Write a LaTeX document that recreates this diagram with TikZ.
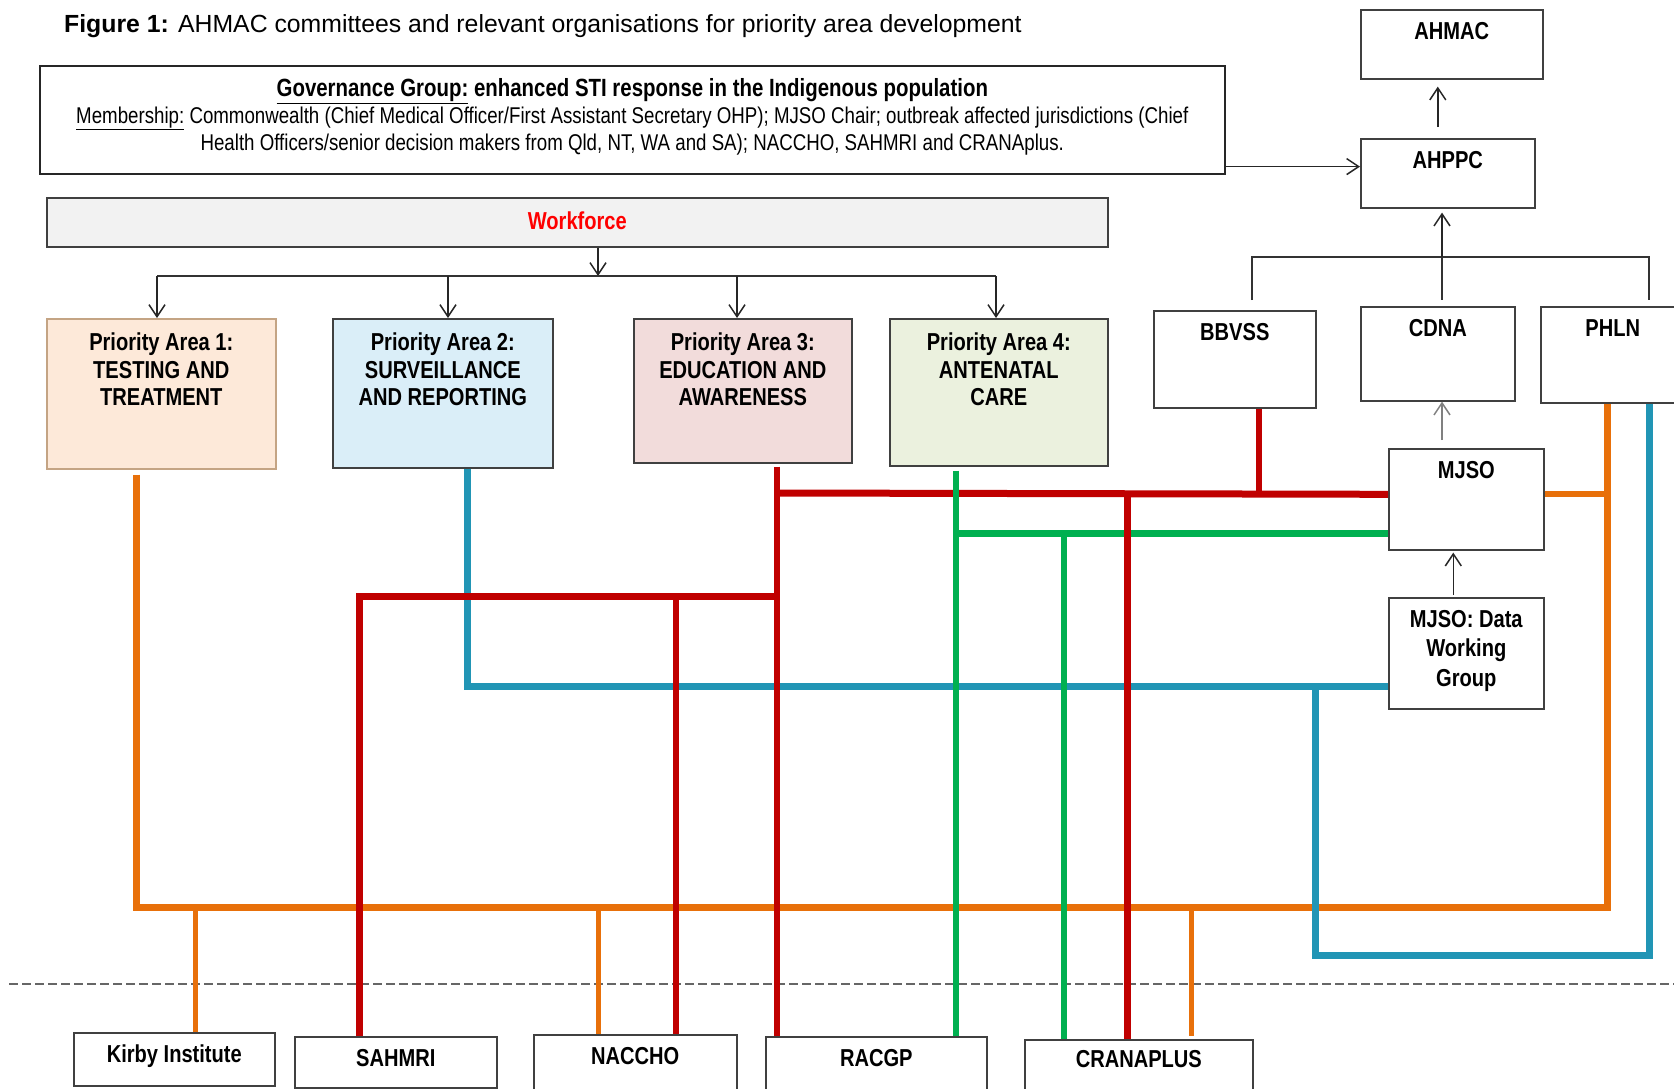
\documentclass[tikz,border=0pt]{standalone}
\usepackage{fontspec}
\setmainfont{Liberation Sans}
\newfontfamily\narrowfont{Liberation Sans}[FakeStretch=0.82]
\usetikzlibrary{arrows.meta}

\definecolor{redline}{HTML}{C00000}
\definecolor{greenline}{HTML}{00B050}
\definecolor{blueline}{HTML}{2195B5}
\definecolor{orangeline}{HTML}{E8700A}
\definecolor{boxedge}{HTML}{404040}
\definecolor{paonefill}{HTML}{FDE9D9}
\definecolor{paoneedge}{HTML}{C4A484}
\definecolor{patwofill}{HTML}{DAEEF8}
\definecolor{pathreefill}{HTML}{F2DCDB}
\definecolor{pafourfill}{HTML}{EBF1DE}
\definecolor{workfill}{HTML}{F2F2F2}
\definecolor{workred}{HTML}{FF0000}

\newcommand{\boxfont}{\narrowfont\bfseries\fontsize{24.5}{27.5}\selectfont}

\begin{document}
\begin{tikzpicture}[x=1pt,y=-1pt,
    orgbox/.style={draw=boxedge, line width=1.6pt, anchor=north west, inner sep=0pt},
    boxlabel/.style={anchor=north, yshift=-13pt, inner sep=0pt, align=center, font=\boxfont},
    arr/.style={-{Straight Barb[length=12pt,width=16pt]}, line width=1.5pt, draw=black!85},
    thinline/.style={line width=1.5pt, draw=black!80},
    bus/.style={line width=6pt},
    feed/.style={line width=5pt}]
        \useasboundingbox (0,0) rectangle (1674,1088);
        \clip (0,0) rectangle (1674,1088);

        % Title
        \node[anchor=base west, inner sep=0pt, font=\fontsize{24.8}{28}\selectfont] (title) at (64,32)
            {\textbf{Figure 1:} AHMAC committees and relevant organisations for priority area development};

        % Governance group and committees on the right
        \node[orgbox, draw=black!85, minimum width=1185pt, minimum height=108pt,
            label={[boxlabel, font=\narrowfont\fontsize{22.8}{27}\selectfont]north:{%
            {\bfseries\fontsize{24.9}{27}\selectfont\underline{Governance Group:} enhanced STI response in the Indigenous population}\\
            \underline{Membership:} Commonwealth (Chief Medical Officer/First Assistant Secretary OHP); MJSO Chair; outbreak affected jurisdictions (Chief\\
            Health Officers/senior decision makers from Qld, NT, WA and SA); NACCHO, SAHMRI and CRANAplus.}}] (gov) at (39,65) {};
        \node[orgbox, minimum width=182pt, minimum height=69pt, label={[boxlabel]north:AHMAC}] (ahmac) at (1360,9) {};
        \node[orgbox, minimum width=174pt, minimum height=69pt, label={[boxlabel]north:AHPPC}] (ahppc) at (1360,138) {};
        \node[orgbox, minimum width=162pt, minimum height=97pt, label={[boxlabel]north:BBVSS}] (bbvss) at (1153,310) {};
        \node[orgbox, minimum width=154pt, minimum height=94pt, label={[boxlabel]north:CDNA}] (cdna) at (1360,306) {};
        \node[orgbox, minimum width=144pt, minimum height=96pt, label={[boxlabel]north:PHLN}] (phln) at (1540,306) {};
        \node[orgbox, minimum width=155pt, minimum height=101pt, label={[boxlabel]north:MJSO}] (mjso) at (1388,448) {};
        \node[orgbox, minimum width=155pt, minimum height=111pt,
            label={[boxlabel, font=\narrowfont\bfseries\fontsize{24.5}{29.5}\selectfont]north:{MJSO: Data\\Working\\Group}}] (dwg) at (1388,597) {};

        % Workforce and the priority areas
        \node[orgbox, fill=workfill, minimum width=1061pt, minimum height=49pt] (work) at (46,197) {};
        \node[font=\boxfont, text=workred, inner sep=0pt] (worktext) at ([yshift=2pt]work.center) {Workforce};
        \node[orgbox, fill=paonefill, draw=paoneedge, minimum width=229pt, minimum height=150pt,
            label={[boxlabel, yshift=-2pt]north:{Priority Area 1:\\TESTING AND\\TREATMENT}}] (pa1) at (46,318) {};
        \node[orgbox, fill=patwofill, minimum width=220pt, minimum height=149pt,
            label={[boxlabel, yshift=-2pt]north:{Priority Area 2:\\SURVEILLANCE\\AND REPORTING}}] (pa2) at (332,318) {};
        \node[orgbox, fill=pathreefill, minimum width=218pt, minimum height=144pt,
            label={[boxlabel, yshift=-2pt]north:{Priority Area 3:\\EDUCATION AND\\AWARENESS}}] (pa3) at (633,318) {};
        \node[orgbox, fill=pafourfill, minimum width=218pt, minimum height=147pt,
            label={[boxlabel, yshift=-2pt]north:{Priority Area 4:\\ANTENATAL\\CARE}}] (pa4) at (889,318) {};

        % Organisations below the line
        \node[orgbox, minimum width=201pt, minimum height=53pt, label={[boxlabel]north:Kirby Institute}] (kirby) at (73,1032) {};
        \node[orgbox, minimum width=202pt, minimum height=51pt, label={[boxlabel]north:SAHMRI}] (sahmri) at (294,1036) {};
        \node[orgbox, minimum width=203pt, minimum height=60pt, label={[boxlabel]north:NACCHO}] (naccho) at (533,1034) {};
        \node[orgbox, minimum width=221pt, minimum height=60pt, label={[boxlabel]north:RACGP}] (racgp) at (765,1036) {};
        \node[orgbox, minimum width=228pt, minimum height=60pt, label={[boxlabel, yshift=2pt]north:CRANAPLUS}] (crana) at (1024,1039) {};

        % Reporting arrows
        \coordinate (wfork) at (598,276);
        \coordinate (f1) at (157,276);
        \coordinate (f2) at (448,276);
        \coordinate (f3) at (737,276);
        \coordinate (f4) at (996,276);
        \draw[arr] (work.south -| wfork) -- (wfork);
        \draw[thinline] (f1) -- (f4);
        \draw[arr] (f1) -- (f1 |- pa1.north);
        \draw[arr] (f2) -- (f2 |- pa2.north);
        \draw[arr] (f3) -- (f3 |- pa3.north);
        \draw[arr] (f4) -- (f4 |- pa4.north);

        \coordinate (gtail) at ([yshift=8pt]gov.south east);
        \draw[arr] (gtail) -- (gtail -| ahppc.west);
        \coordinate (ctail) at ([xshift=-10pt,yshift=11pt]ahppc.north);
        \coordinate (ctip) at ([yshift=-7pt]ahmac.south);
        \draw[arr] (ctail) -- (ctip -| ctail);

        \coordinate (hub) at (1442,257);
        \coordinate (hL) at (1252,257);
        \coordinate (hR) at (1649,257);
        \draw[thinline] ([yshift=10pt]bbvss.north -| hL) -- (hL) -- (hR) -- ([yshift=6pt]phln.north -| hR);
        \draw[thinline] (hub) -- ([yshift=6pt]cdna.north -| hub);
        \draw[arr] (hub) -- ([yshift=-4pt]ahppc.south -| hub);
        \draw[arr, draw=gray] ([yshift=8pt]mjso.north -| hub) -- (cdna.south -| hub);
        \coordinate (dtail) at ([xshift=-13pt,yshift=2pt]dwg.north);
        \draw[arr] (dtail) -- ([yshift=-2pt]mjso.south -| dtail);

        % Dividing line
        \draw[dashed, dash pattern=on 9pt off 4pt, line width=1.4pt, draw=black!60] (9,984) -- (1674,984);

        % Orange links
        \coordinate (oL) at (136,907);
        \coordinate (oR) at (1607,907);
        \coordinate (o1) at (195,907);
        \coordinate (o2) at (598,907);
        \coordinate (o3) at (1191,907);
        \draw[bus, orangeline, line width=7pt] ([yshift=-5pt]pa1.south -| oL) -- (oL) -- (oR) -- (phln.south -| oR);
        \draw[bus, orangeline] ([yshift=5pt]mjso.east) -- ([yshift=5pt]mjso.east -| oR);
        \draw[feed, orangeline] (o1) -- (kirby.north -| o1);
        \draw[feed, orangeline] (o2) -- (naccho.north -| o2);
        \draw[feed, orangeline] (o3) -- ([yshift=3pt]crana.north -| o3);

        % Blue links
        \coordinate (bA) at (467,686);
        \coordinate (bB) at (1315,686);
        \coordinate (bC) at (1315,955);
        \coordinate (bD) at (1649,955);
        \draw[bus, blueline, line width=7pt] (pa2.south -| bA) -- (bA) -- (dwg.west |- bA);
        \draw[bus, blueline, line width=7pt] (bB) -- (bC) -- (bD) -- (phln.south -| bD);

        % Red links
        \coordinate (rA) at (777,493);
        \coordinate (rB) at (1259,493);
        \coordinate (rC) at (359,596);
        \coordinate (rD) at (676,596);
        \coordinate (rE) at (1127,493);
        \draw[bus, redline] ([yshift=-3pt]pa3.south -| rA) -- (racgp.north -| rA);
        \draw[bus, redline, line width=7pt] (rA) -- ([yshift=5pt]mjso.west);
        \draw[bus, redline] (bbvss.south -| rB) -- (rB);
        \draw[bus, redline, line width=7pt] (sahmri.north -| rC) -- (rC) -- (rA |- rC);
        \draw[bus, redline] (rD) -- (naccho.north -| rD);

        % Green links
        \coordinate (gA) at (956,533);
        \coordinate (gB) at (1064,533);
        \draw[bus, greenline] ([yshift=-4pt]pa4.south -| gA) -- (racgp.north -| gA);
        \draw[bus, greenline, line width=7pt] (gA) -- (mjso.west |- gA);
        \draw[bus, greenline] (gB) -- (crana.north -| gB);

        % Red link on top of the green one
        \draw[bus, redline, line width=7pt] (rE) -- (crana.north -| rE);
\end{tikzpicture}
\end{document}
